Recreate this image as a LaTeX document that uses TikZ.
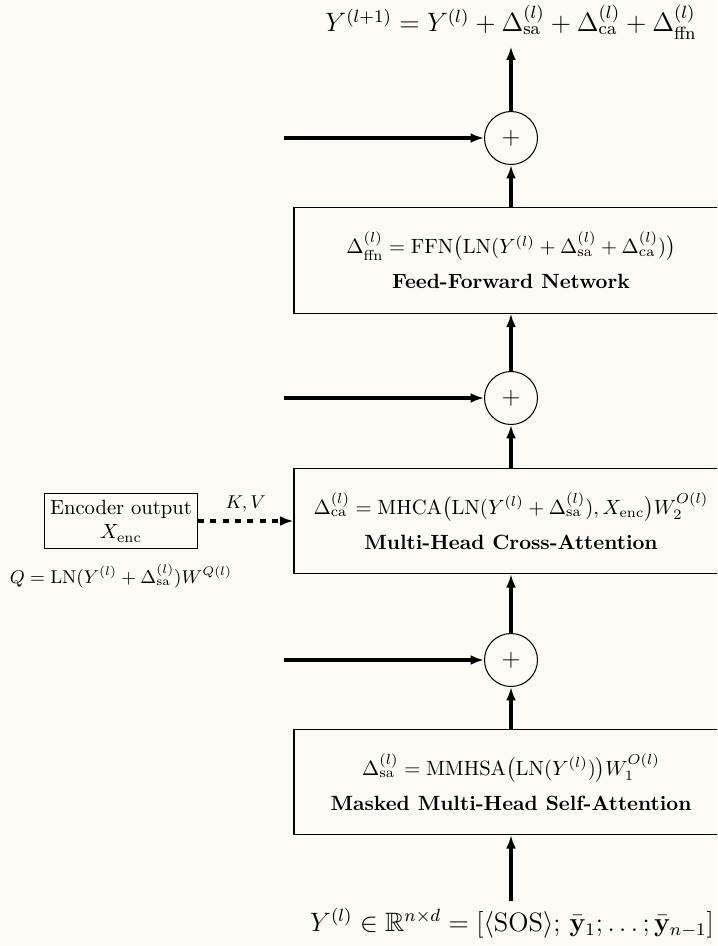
\documentclass[tikz,border=0pt]{standalone}
\usepackage{amsmath,amssymb}
\usepackage{graphicx}
\usetikzlibrary{arrows.meta}
\definecolor{paper}{RGB}{252,251,246}
\newcommand{\bigeq}[1]{\scalebox{1.075}{\large #1}}
\begin{document}
\begin{tikzpicture}[x=0.485pt,y=-0.485pt,
  flow/.style={line width=1.6pt,-{Latex[length=6.5pt,width=4.8pt]}},
  block/.style={draw, line width=0.5pt, minimum width=210.5pt, minimum height=51pt,
    align=center, inner sep=0pt},
  sum/.style={draw, circle, line width=0.5pt, minimum size=25.7pt, inner sep=0pt,
    font=\large},
  src/.style={draw, line width=0.5pt, minimum width=74pt, minimum height=27pt,
    align=center, inner sep=1pt},
  ]
\fill[paper] (0,0) rectangle (717,946);
\useasboundingbox (0,0) rectangle (717,946);
\clip (0,0) rectangle (717,946);

% output of the decoder layer
\node (out) at (511,22)
  {\bigeq{$Y^{(l+1)} = Y^{(l)} + \Delta_{\text{sa}}^{(l)} + \Delta_{\text{ca}}^{(l)} + \Delta_{\text{ffn}}^{(l)}$}};

% residual sums
\node[sum] (p1) at (511,138) {$+$};
\node[sum] (p2) at (511,398) {$+$};
\node[sum] (p3) at (511,660) {$+$};

% sub-layers
\node[block] (ffn) at (511,260.5)
  {$\Delta_{\text{ffn}}^{(l)} = \mathrm{FFN}\bigl(\mathrm{LN}(Y^{(l)} + \Delta_{\text{sa}}^{(l)} + \Delta_{\text{ca}}^{(l)})\bigr)$\\[5pt]
   \textbf{Feed-Forward Network}};
\node[block] (ca) at (511,521)
  {$\Delta_{\text{ca}}^{(l)} = \mathrm{MHCA}\bigl(\mathrm{LN}(Y^{(l)} + \Delta_{\text{sa}}^{(l)}), X_{\text{enc}}\bigr) W_2^{O(l)}$\\[5pt]
   \textbf{Multi-Head Cross-Attention}};
\node[block] (sa) at (511,782)
  {$\Delta_{\text{sa}}^{(l)} = \mathrm{MMHSA}\bigl(\mathrm{LN}(Y^{(l)})\bigr) W_1^{O(l)}$\\[5pt]
   \textbf{Masked Multi-Head Self-Attention}};

% encoder side
\node[src] (enc) at (121,521) {Encoder output\\ $X_{\text{enc}}$};
\node[font=\small] (q) at (121,576) {$Q = \mathrm{LN}(Y^{(l)} + \Delta_{\text{sa}}^{(l)}) W^{Q(l)}$};

% layer input
\node (in) at (512,923)
  {\bigeq{$Y^{(l)} \in \mathbb{R}^{n\times d} = [\langle \mathrm{SOS}\rangle;\, \bar{\mathbf{y}}_1; \dots; \bar{\mathbf{y}}_{n-1}]$}};

% residual inputs from the left
\coordinate (r1) at (284,138);
\coordinate (r2) at (284,398);
\coordinate (r3) at (284,660);

% main path
\draw[flow] (in.north -| sa.south) -- (sa.south);
\draw[flow] (sa) -- (p3);
\draw[flow] (p3) -- (ca);
\draw[flow] (ca) -- (p2);
\draw[flow] (p2) -- (ffn);
\draw[flow] (ffn) -- (p1);
\draw[flow] (p1) -- (out);

% skip connections
\draw[flow] (r1) -- (p1);
\draw[flow] (r2) -- (p2);
\draw[flow] (r3) -- (p3);

% keys and values from the encoder
\draw[flow, dashed] (enc) -- node[above, font=\small] {$K,V$} (ca);
\end{tikzpicture}
\end{document}
